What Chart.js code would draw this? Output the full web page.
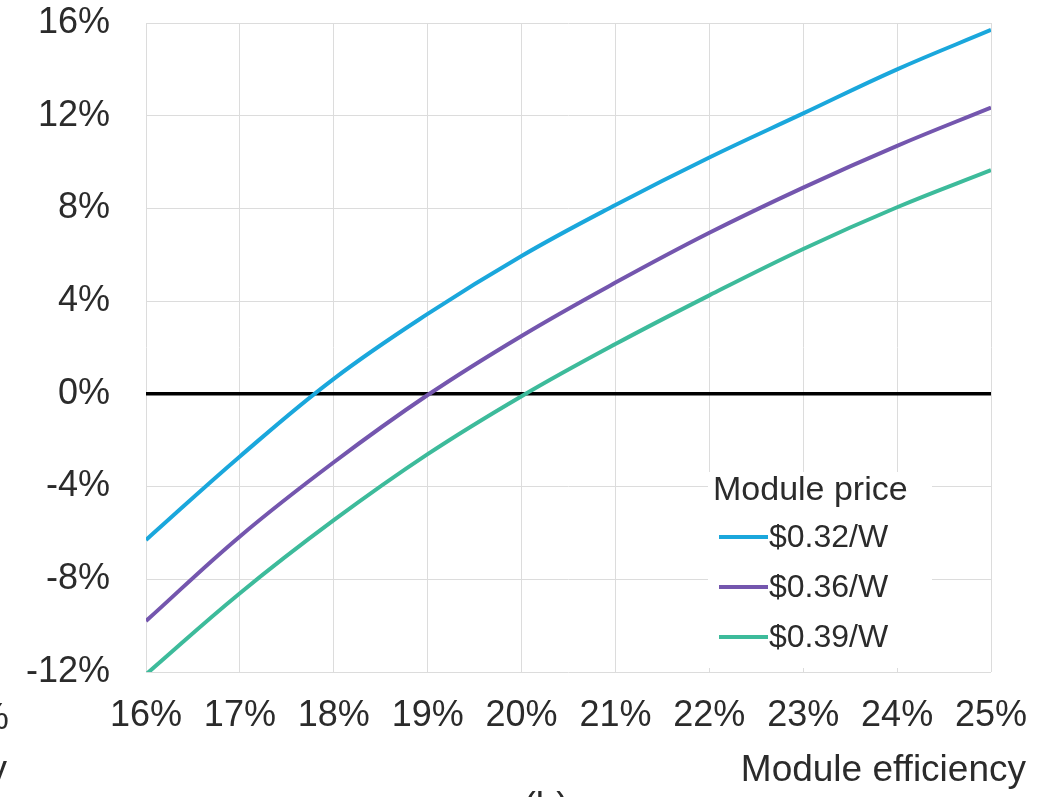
<!DOCTYPE html>
<html>
<head>
<meta charset="utf-8">
<script src="https://cdn.jsdelivr.net/npm/chart.js@4.4.1/dist/chart.umd.min.js"></script>
<style>
  html, body { margin: 0; padding: 0; background: #fff; }
  #wrap { width: 1046px; height: 797px; }
</style>
</head>
<body>
<div id="wrap"><canvas id="chart" width="1046" height="797"></canvas></div>
<script>
// Données
const efficiency = [16, 17, 18, 19, 20, 21, 22, 23, 24, 25]
const seriesLabels = ["$0.32/W", "$0.36/W", "$0.39/W"]
const price032 = [-6.3, -2.7, 0.65, 3.45, 5.95, 8.15, 10.2, 12.1, 14.0, 15.7]
const price036 = [-9.8, -6.15, -2.95, -0.05, 2.5, 4.8, 6.95, 8.9, 10.7, 12.35]
const price039 = [-12.1, -8.6, -5.45, -2.6, -0.1, 2.15, 4.25, 6.25, 8.05, 9.65]
const yTicks = [-12, -8, -4, 0, 4, 8, 12, 16]
const xTicks = [16, 17, 18, 19, 20, 21, 22, 23, 24, 25]

const colors = ["#1aa7dc", "#7456ae", "#3dbb9b"]
const FONT = "'Liberation Sans', Arial, sans-serif"
const TEXT = "#2b2b2b"

function toPoints(values) {
  return values.map((v, i) => ({ x: efficiency[i], y: v }))
}

// Légende + textes annexes
const extrasPlugin = {
  id: "extras",
  afterDraw(chart) {
    const ctx = chart.ctx
    ctx.save()
    // fond blanc de la légende
    ctx.fillStyle = "#ffffff"
    ctx.fillRect(708, 472, 224, 196)
    ctx.fillStyle = TEXT
    ctx.font = "34px " + FONT
    ctx.textBaseline = "middle"
    ctx.textAlign = "left"
    ctx.fillText("Module price", 713, 491)
    ctx.font = "32px " + FONT
    chart.data.datasets.forEach((ds, i) => {
      const y = 537 + i * 50
      ctx.strokeStyle = ds.borderColor
      ctx.lineWidth = 4
      ctx.beginPath()
      ctx.moveTo(719, y)
      ctx.lineTo(768, y)
      ctx.stroke()
      ctx.fillStyle = TEXT
      ctx.fillText(ds.label, 769, y + 1)
    })
    // titre de l'axe X
    ctx.font = "37px " + FONT
    ctx.textBaseline = "alphabetic"
    ctx.textAlign = "right"
    ctx.fillText("Module efficiency", 1026, 781)
    // fragments coupés
    ctx.textAlign = "center"
    ctx.fillText("(b)", 546, 818)
    ctx.textAlign = "right"
    ctx.fillText("25%", 9, 729)
    ctx.fillText("efficiency", 7, 781)
    ctx.restore()
  },
}

new Chart(document.getElementById("chart"), {
  type: "line",
  data: {
    datasets: [
      { label: seriesLabels[0], data: toPoints(price032), borderColor: colors[0] },
      { label: seriesLabels[1], data: toPoints(price036), borderColor: colors[1] },
      { label: seriesLabels[2], data: toPoints(price039), borderColor: colors[2] },
    ].map((d) => ({
      ...d,
      borderWidth: 4,
      pointRadius: 0,
      fill: false,
      tension: 0.4,
    })),
  },
  options: {
    responsive: false,
    animation: false,
    layout: { padding: { top: 23, right: 55, bottom: 0, left: 0 } },
    plugins: { legend: { display: false }, tooltip: { enabled: false } },
    scales: {
      x: {
        type: "linear",
        min: 16,
        max: 25,
        afterBuildTicks: (axis) => { axis.ticks = xTicks.map((v) => ({ value: v })) },
        afterFit: (axis) => {
          axis.height = 125
          axis.paddingLeft = 0
          axis.paddingRight = 0
        },
        border: { display: false },
        grid: { color: "#dcdcdc", lineWidth: 1, drawTicks: false },
        ticks: {
          padding: 22,
          color: TEXT,
          font: { family: FONT, size: 36 },
          maxRotation: 0,
          autoSkip: false,
          callback: (v) => v + "%",
        },
      },
      y: {
        min: -12,
        max: 16,
        afterBuildTicks: (axis) => { axis.ticks = yTicks.map((v) => ({ value: v })) },
        afterFit: (axis) => {
          axis.width = 146
          axis.paddingTop = 0
          axis.paddingBottom = 0
        },
        border: { display: false },
        grid: {
          drawTicks: false,
          color: (c) => (c.tick && c.tick.value === 0 ? "#000000" : "#dcdcdc"),
          lineWidth: (c) => (c.tick && c.tick.value === 0 ? 3.5 : 1),
        },
        ticks: {
          padding: 36,
          color: TEXT,
          font: { family: FONT, size: 36 },
          callback: (v) => v + "%",
        },
      },
    },
  },
  plugins: [extrasPlugin],
})
</script>
</body>
</html>
